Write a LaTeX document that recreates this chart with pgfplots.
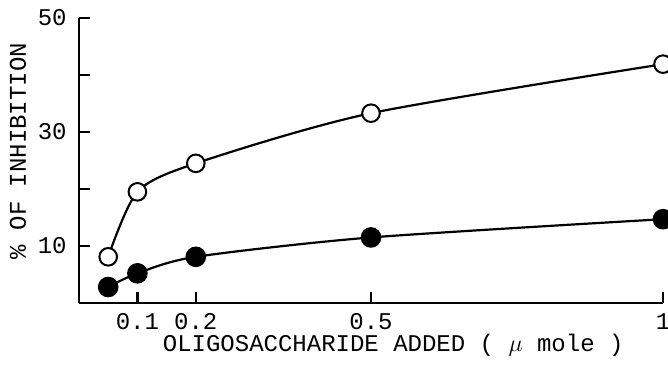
\documentclass[border=0pt]{standalone}
\usepackage{fontspec}
\setmainfont{Liberation Mono}
\usepackage{pgfplots}
\pgfplotsset{compat=1.18}
\begin{document}
\fontsize{12}{14}\selectfont
\begin{tikzpicture}
\begin{axis}[
  scale only axis, width=292pt, height=142.5pt,
  xmin=0, xmax=1, ymin=0, ymax=50,
  axis lines*=left,
  axis line style={line width=1.1pt},
  tick align=inside,
  major tick length=5.5pt,
  tick style={line width=1.1pt, black},
  xtick={0.1,0.2,0.5,1}, xticklabels={0.1,0.2,0.5,1},
  ytick={10,20,30,40,50}, yticklabels={10,,30,,50},
  /pgf/number format/assume math mode=true,
  tick label style={font=\fontsize{12}{14}\selectfont},
  yticklabel style={xshift=-2pt},
  xticklabel style={yshift=-1pt},
  xlabel={OLIGOSACCHARIDE ADDED ( $\mu$ mole )},
  ylabel={\% OF INHIBITION},
  xlabel style={at={(axis description cs:0.538,0)}, anchor=base, yshift=-24.5pt},
  ylabel style={at={(axis description cs:-0.1045,0.533)}, anchor=center},
  clip=false,
]
% oligosaccharide, open symbols
\addplot[black, line width=1.1pt, smooth, tension=0.45, mark=*, mark size=4.4pt,
  mark options={fill=white, line width=1pt}]
  coordinates {(0.05,8.1) (0.1,19.5) (0.2,24.5) (0.5,33.3) (1,41.9)};
% filled symbols
\addplot[black, line width=1.1pt, smooth, tension=0.45, mark=*, mark size=4.6pt,
  mark options={fill=black}]
  coordinates {(0.05,2.8) (0.1,5.2) (0.2,8.1) (0.5,11.5) (1,14.7)};
\end{axis}
\pgfresetboundingbox
\path ([shift={(-39.5pt,-31pt)}]current axis.south west) rectangle ([shift={(2.5pt,9pt)}]current axis.north east);
\end{tikzpicture}
\end{document}
